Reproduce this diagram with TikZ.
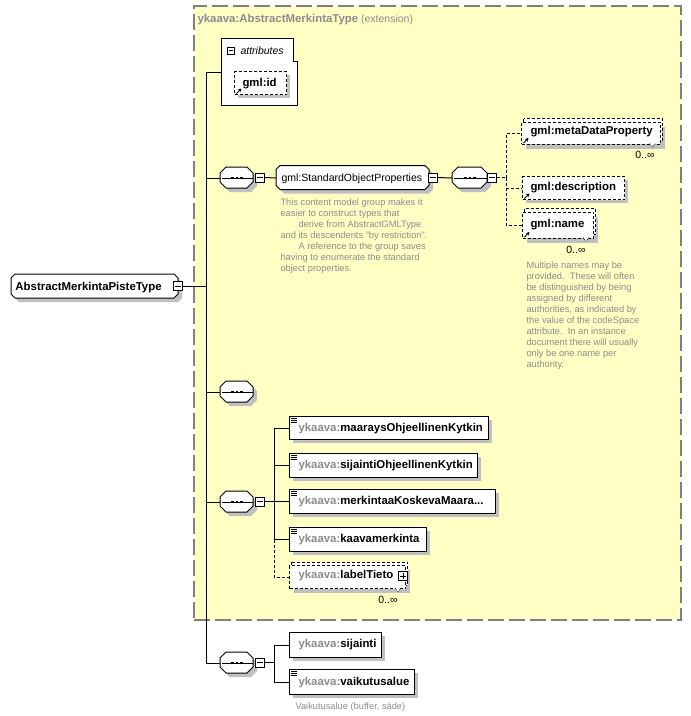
\documentclass[tikz,border=0pt]{standalone}
\usepackage{fontspec}
\setmainfont{Liberation Sans}
\usetikzlibrary{arrows.meta}
\definecolor{ybg}{HTML}{FFFFC4}
\definecolor{gbd}{HTML}{808080}
\definecolor{shd}{HTML}{C0C0C0}
\definecolor{gtx}{HTML}{8C8C8C}
\newcommand\octbox[6]{%
  \fill[shd,shift={(4,4)}] ({#2+#6},#3) -- ({#4-#6},#3) -- (#4,{#3+#6}) -- (#4,{#5-#6}) -- ({#4-#6},#5) -- ({#2+#6},#5) -- (#2,{#5-#6}) -- (#2,{#3+#6}) -- cycle;
  \draw[fill=white] ({#2+#6},#3) -- ({#4-#6},#3) -- (#4,{#3+#6}) -- (#4,{#5-#6}) -- ({#4-#6},#5) -- ({#2+#6},#5) -- (#2,{#5-#6}) -- (#2,{#3+#6}) -- cycle;
  \node[inner sep=0,minimum width={#4-#2},minimum height={#5-#3},anchor=north west] (#1) at (#2,#3) {};}
\newcommand\seqdots[1]{\draw[line width=0.9pt] ([xshift=1.5pt]#1.west) -- ([xshift=-1.5pt]#1.east);
  \foreach \d in {-4.5,0,4.5}{\fill ([xshift=\d pt]#1.center) ++(-1.4,-1.4) rectangle ++(2.8,2.8);}}
\newcommand\minusb[4]{\node[draw,fill=white,minimum size=#4,inner sep=0] (#1) at (#2,#3) {};
  \draw ([xshift=2pt]#1.west) -- ([xshift=-2pt]#1.east);}
\newcommand\plusb[4]{\minusb{#1}{#2}{#3}{#4}\draw ([yshift=-2pt]#1.north) -- ([yshift=2pt]#1.south);}
\newcommand\ebox[6]{%
  \fill[shd] ({#2+4},{#3+4}) rectangle ({#4+4},{#5+4});
  \node[draw,fill=white,inner sep=0,anchor=north west,minimum width={#4-#2},minimum height={#5-#3},#6] (#1) at (#2,#3) {};}
\newcommand\stackbox[5]{%
  \fill[shd] ({#2+5},{#3+5}) rectangle ({#4+5},{#5+5});
  \draw[dsh,fill=white] ({#2+2.5},{#3-3}) rectangle ({#4+2.5},{#5-3});
  \node[draw,dsh,fill=white,inner sep=0,anchor=north west,minimum width={#4-#2},minimum height={#5-#3}] (#1) at (#2,#3) {};
  \draw[line width=0.6pt,dash pattern=on 1pt off 1pt,fill=white] ({#4-10},#5) -- ({#4-7},{#5+3.5}) -- ({#4-4},#5);}
\newcommand\refarrow[1]{\draw[-{Stealth[length=3.5pt,width=3.5pt]},line width=0.9pt] ([xshift=2.5pt,yshift=1.5pt]#1.south west) -- ++(5,-5);}
\newcommand\simpleicon[1]{\foreach \k in {2.5,4.5,6.5}{\draw[line width=0.8pt] ([xshift=2pt,yshift=-\k pt]#1.north west) -- ++(5.5,0);}}
\newcommand\pfx{{\color{gtx}ykaava:}}
\tikzset{
  dsh/.style={dash pattern=on 3pt off 2pt},
  nt/.style={font=\fontsize{10.5}{12}\selectfont,inner sep=0,anchor=base west},
  bt/.style={font=\fontsize{11.4}{13}\bfseries\selectfont,inner sep=0,anchor=base west},
  ann/.style={font=\fontsize{9.3}{10.95}\selectfont,text=gtx,inner sep=0,anchor=north west,align=left},
}
\begin{document}
\begin{tikzpicture}[x=1pt,y=-1pt,line width=1pt]
\useasboundingbox (0,0) rectangle (691,716);
% extension container
\node[draw=gbd,fill=ybg,line width=1.5pt,dash pattern=on 16pt off 5pt,inner sep=0,anchor=north west,minimum width=487,minimum height=614] (ext) at (193,5) {};
\node[bt,text=gtx] (title) at (197,22.7) {ykaava:AbstractMerkintaType\mdseries\fontsize{10.5}{12}\selectfont\ (extension)};
% root
\octbox{root}{11}{274}{178}{298}{4}
\node[bt] (roott) at (15,290) {AbstractMerkintaPisteType};
\minusb{rootpm}{178}{286}{9pt}
\coordinate (tr) at (206,286);
\draw (rootpm.east) -- (tr);
% attributes
\coordinate (attrin) at (221,72);
\draw[fill=white] (221,38) -- (293.3,38) -- (293.3,61.7) -- (297.3,61.7) -- (297.3,105) -- (221,105) -- cycle;
\minusb{attrpm}{230.5}{50.5}{7pt}
\node[nt,font=\fontsize{10.5}{12}\itshape\selectfont] (attrt) at (240,54) {attributes};
\ebox{gid}{234}{71}{286}{94}{dsh}
\refarrow{gid}
\node[bt] (gidt) at (242,86) {gml:id};
\draw (tr) |- (attrin);
% sequence 1 and StandardObjectProperties
\octbox{s1}{220}{167}{253}{188}{6}
\seqdots{s1}
\minusb{s1pm}{259.5}{177.5}{9pt}
\octbox{sop}{276}{165.5}{429}{189.5}{4}
\node[nt] (sopt) at (281,181.7) {gml:StandardObjectProperties};
\minusb{soppm}{432.5}{177.5}{9pt}
\node[ann] (sopann) at (280,198.7) {This content model group makes it\\easier to construct types that\\\hspace*{18pt}derive from AbstractGMLType\\and its descendents "by restriction".\\\hspace*{18pt}A reference to the group saves\\having to enumerate the standard\\object properties.};
\draw (tr) |- (s1.west);
\draw (s1pm.east) -- (sop.west);
% sequence 2
\octbox{s2}{452}{167}{487}{188}{6}
\seqdots{s2}
\minusb{s2pm}{491.5}{177.5}{9pt}
\draw (soppm.east) -- (s2.west);
\stackbox{md}{521}{121.5}{659.5}{143.5}
\refarrow{md}
\node[bt] (mdt) at (530,134) {gml:metaDataProperty};
\node[nt,anchor=base east] (mdm) at (655,158.7) {0..∞};
\ebox{desc}{522}{176}{624}{199}{dsh}
\refarrow{desc}
\node[bt] (desct) at (530,190.7) {gml:description};
\stackbox{nm}{522}{211.5}{593}{237.5}
\refarrow{nm}
\node[bt] (nmt) at (530,227.7) {gml:name};
\node[nt,anchor=base east] (nmm) at (586,253) {0..∞};
\node[ann] (nmann) at (526,261.5) {Multiple names may be\\provided.\ \ These will often\\be distinguished by being\\assigned by different\\authorities, as indicated by\\the value of the codeSpace\\attribute.\ \ In an instance\\document there will usually\\only be one name per\\authority.};
\coordinate (v2) at (506,177.5);
\draw[dsh] (s2pm.east) -- (v2);
\draw[dsh] (v2) |- (md.west);
\draw[dsh] (v2) |- (desc.west);
\draw[dsh] (v2) |- (nm.west);
% sequence 3
\octbox{s3}{220}{381}{253}{402}{6}
\seqdots{s3}
\draw (tr) |- (s3.west);
% sequence 4
\octbox{s4}{220}{491}{253}{512}{6}
\seqdots{s4}
\minusb{s4pm}{259.5}{501.5}{9pt}
\draw (tr) |- (s4.west);
\ebox{e1}{289}{416}{488}{439}{}
\simpleicon{e1}
\node[bt] (e1t) at (298,431) {\pfx maaraysOhjeellinenKytkin};
\ebox{e2}{289}{453}{477}{477}{}
\simpleicon{e2}
\node[bt] (e2t) at (298,468.8) {\pfx sijaintiOhjeellinenKytkin};
\ebox{e3}{289}{489}{495}{513}{}
\simpleicon{e3}
\node[bt] (e3t) at (298,504.8) {\pfx merkintaaKoskevaMaara...};
\ebox{e4}{289}{527}{426}{551}{}
\simpleicon{e4}
\node[bt] (e4t) at (298,542.8) {\pfx kaavamerkinta};
\stackbox{e5}{289}{565}{405}{588}
\node[bt] (e5t) at (298,578.3) {\pfx labelTieto};
\plusb{e5pm}{403}{576}{9pt}
\node[nt,anchor=base east] (e5m) at (398,603) {0..∞};
\coordinate (v4) at (274,501.5);
\draw (s4pm.east) -- (v4);
\draw (v4) |- (e1.west);
\draw (v4) |- (e2.west);
\draw (v4) |- (e3.west);
\draw (v4) |- (e4.west);
\draw[dsh] (v4 |- e4.west) |- (e5.west);
% sequence 5
\octbox{s5}{220}{652}{253}{673}{6}
\seqdots{s5}
\minusb{s5pm}{259.5}{662.5}{9pt}
\draw (tr) |- (s5.west);
\ebox{sj}{289}{632}{381}{657}{}
\node[bt] (sjt) at (298,647.7) {\pfx sijainti};
\ebox{vk}{289}{669}{414}{694}{}
\simpleicon{vk}
\node[bt] (vkt) at (298,685) {\pfx vaikutusalue};
\node[ann,anchor=base west] (vkann) at (295,709.3) {Vaikutusalue (buffer, säde)};
\coordinate (v5) at (274,662.5);
\draw (s5pm.east) -- (v5);
\draw (v5) |- (sj.west);
\draw (v5) |- (vk.west);
\end{tikzpicture}
\end{document}
